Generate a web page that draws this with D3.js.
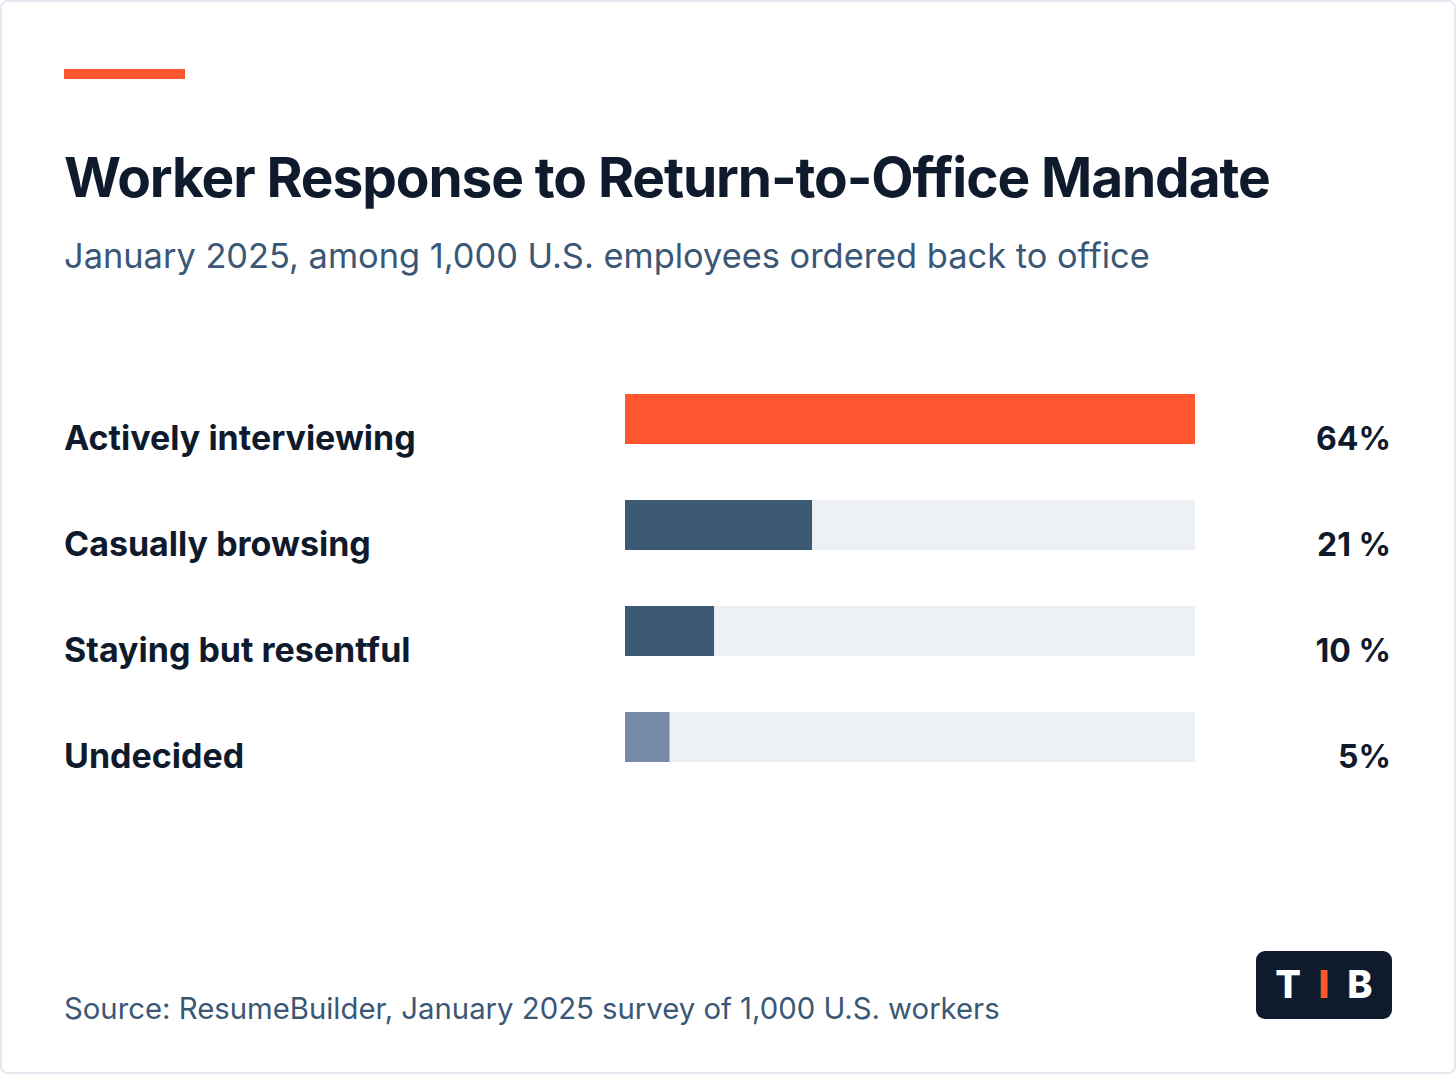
<!DOCTYPE html>
<html lang="en">
<head>
  <meta charset="UTF-8">
  <title>Worker Response to Return-to-Office Mandate</title>
  <script src="https://d3js.org/d3.v7.min.js"></script>
  <style>
    body { margin: 0; background: #ffffff; }
    svg { display: block; font-family: Inter, "Noto Sans", sans-serif; }
  </style>
</head>
<body>
<svg id="chart" width="1456" height="1074"></svg>
<script>
// data
const categories = ["Actively interviewing", "Casually browsing", "Staying but resentful", "Undecided"];
const values = [64, 21, 10, 5];
const valueLabels = ["64%", "21 %", "10 %", "5%"];
const barColors = ["#ff5630", "#3d5a75", "#3d5a75", "#768ba9"];

const titleText = "Worker Response to Return-to-Office Mandate";
const subtitleText = "January 2025, among 1,000 U.S. employees ordered back to office";
const sourceText = "Source: ResumeBuilder, January 2025 survey of 1,000 U.S. workers";

const W = 1456, H = 1074;
const ink = "#0f1b2d", slate = "#3b5776";

const svg = d3.select("#chart");

// card
svg.append("rect")
  .attr("x", 1).attr("y", 1)
  .attr("width", W - 2).attr("height", H - 2)
  .attr("rx", 6)
  .attr("fill", "#fff")
  .attr("stroke", "#e2e8f0")
  .attr("stroke-width", 2);

// accent line
svg.append("rect")
  .attr("x", 64).attr("y", 69)
  .attr("width", 121).attr("height", 10)
  .attr("fill", "#ff5630");

svg.append("text")
  .attr("x", 64).attr("y", 197)
  .attr("font-size", 55)
  .attr("font-weight", 700)
  .attr("letter-spacing", "-1.1px")
  .attr("fill", ink)
  .text(titleText);

svg.append("text")
  .attr("x", 64).attr("y", 268)
  .attr("font-size", 34.4)
  .attr("fill", slate)
  .text(subtitleText);

// bars: 50px bars on a 106px step
const x = d3.scaleLinear().domain([0, d3.max(values)]).range([625, 1195]);
const y = d3.scaleBand().domain(categories).range([394, 762]).paddingInner(56 / 106).paddingOuter(0);

const rows = svg.append("g").selectAll("g")
  .data(categories)
  .join("g");

rows.append("rect")
  .attr("x", x(0))
  .attr("y", d => y(d))
  .attr("width", x.range()[1] - x(0))
  .attr("height", y.bandwidth())
  .attr("fill", "#edf1f6");

rows.append("rect")
  .attr("x", x(0))
  .attr("y", d => y(d))
  .attr("width", (d, i) => x(values[i]) - x(0))
  .attr("height", y.bandwidth())
  .attr("fill", (d, i) => barColors[i]);

rows.append("text")
  .attr("x", 64)
  .attr("y", d => y(d) + 56)
  .attr("font-size", 34)
  .attr("font-weight", 700)
  .attr("fill", ink)
  .text(d => d);

rows.append("text")
  .attr("x", 1391)
  .attr("y", d => y(d) + 56)
  .attr("text-anchor", "end")
  .attr("font-size", 32)
  .attr("font-weight", 700)
  .attr("fill", ink)
  .text((d, i) => valueLabels[i]);

// source
svg.append("text")
  .attr("x", 64).attr("y", 1019)
  .attr("font-size", 29.3)
  .attr("fill", slate)
  .text(sourceText);

// logo
const logo = svg.append("g").attr("transform", "translate(1256,951)");
logo.append("rect")
  .attr("width", 136).attr("height", 68)
  .attr("rx", 9)
  .attr("fill", ink);
const logoLetters = ["T", "I", "B"];
const lx = d3.scalePoint().domain(logoLetters).range([32, 104]);
logo.selectAll("text")
  .data(logoLetters)
  .join("text")
  .attr("x", d => lx(d))
  .attr("y", 47)
  .attr("text-anchor", "middle")
  .attr("font-size", 38)
  .attr("font-weight", 800)
  .attr("fill", d => d === "I" ? "#ff5630" : "#ffffff")
  .text(d => d);
</script>
</body>
</html>
